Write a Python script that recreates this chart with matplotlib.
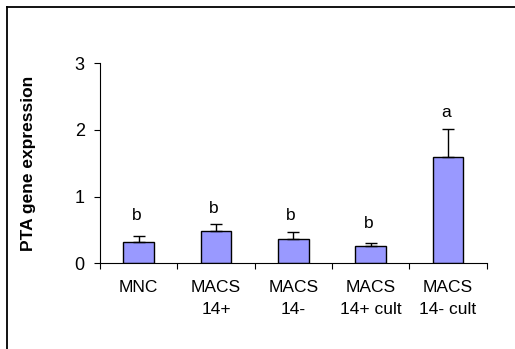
import matplotlib
matplotlib.use("Agg")
import matplotlib.pyplot as plt
from matplotlib.lines import Line2D

plt.rcParams['font.family'] = ['Liberation Sans', 'DejaVu Sans']

categories = ["MNC", "MACS\n14+", "MACS\n14-", "MACS\n14+ cult", "MACS\n14- cult"]
means = [0.32, 0.49, 0.365, 0.26, 1.595]
errors = [0.09, 0.10, 0.105, 0.04, 0.415]
letters = ["b", "b", "b", "b", "a"]
letter_y = [0.71, 0.82, 0.72, 0.59, 2.26]

fig = plt.figure(figsize=(5.15, 3.49), dpi=100)
ax = fig.add_axes([100 / 515, 1 - 263.3 / 349, 386.7 / 515, 200 / 349])

x = list(range(len(categories)))
ax.bar(x, means, width=0.4, color="#9999FF", edgecolor="black", linewidth=1.0, zorder=2)
ax.errorbar(x, means, yerr=[[0] * len(errors), errors], fmt="none", ecolor="black",
            elinewidth=1.0, capsize=4, capthick=1.0, zorder=3)
for xi, lab, ly in zip(x, letters, letter_y):
    ax.text(xi - 0.03, ly, lab, ha="center", va="center", fontsize=12.5)

ax.set_xlim(-0.5, len(categories) - 0.5)
ax.set_ylim(0, 3)
ax.set_yticks([0, 1, 2, 3])
ax.set_yticklabels(["0", "1", "2", "3"], fontsize=13)
ax.set_xticks([i + 0.5 for i in range(-1, len(categories))], minor=False)
ax.set_xticklabels([])
ax.set_xticks(x, minor=True)
ax.set_xticklabels(categories, minor=True, fontsize=12.5, linespacing=1.6)
ax.tick_params(axis="x", which="minor", length=0, pad=12)
ax.tick_params(axis="x", which="major", length=4, direction="out", width=0.8)
ax.tick_params(axis="y", length=4, direction="out", width=0.8, pad=7)
for s in ["top", "right"]:
    ax.spines[s].set_visible(False)
for s in ["left", "bottom"]:
    ax.spines[s].set_linewidth(0.8)
ax.set_ylabel("PTA gene expression", fontsize=12.5, fontweight="bold", labelpad=28)

# outer frame lines along top and left edges
fig.add_artist(Line2D([6.5 / 515, 1], [1 - 6.5 / 349, 1 - 6.5 / 349], color="black",
                      linewidth=1.3, transform=fig.transFigure))
fig.add_artist(Line2D([6.5 / 515, 6.5 / 515], [0, 1 - 6.5 / 349], color="black",
                      linewidth=1.3, transform=fig.transFigure))

fig.savefig("out.png", dpi=100)
